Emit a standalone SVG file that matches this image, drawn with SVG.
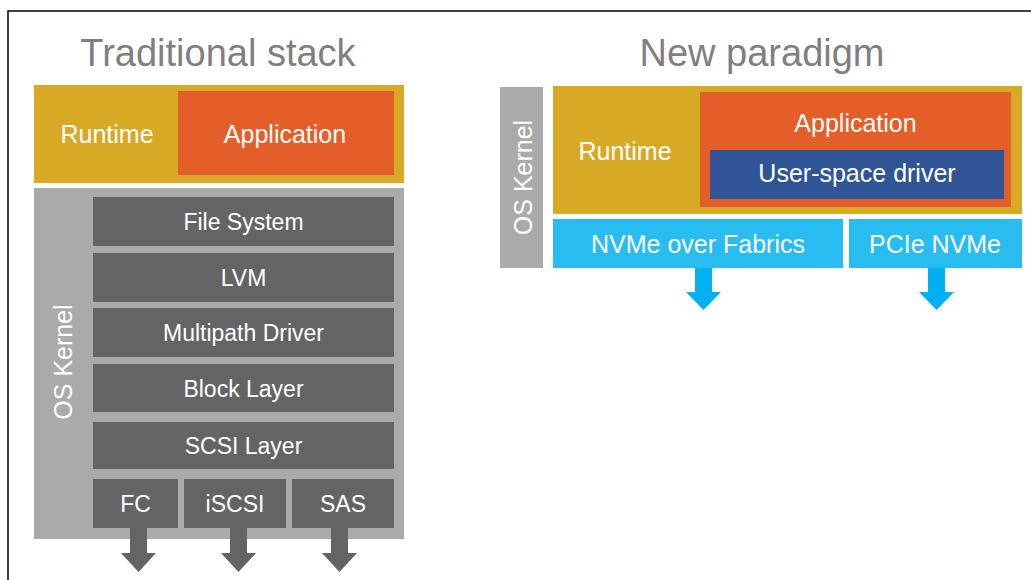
<svg xmlns="http://www.w3.org/2000/svg" width="1031" height="580" viewBox="0 0 1031 580">
<style>
text{font-family:"Liberation Sans",Arial,sans-serif;text-anchor:middle;fill:#ffffff}
.title{font-size:38px;fill:#7f7f7f}
.big{font-size:25px}
.lay{font-size:23px}
.gold{fill:#d8a924}
.app{fill:#e35e29}
.kern{fill:#aaaaaa}
.dark{fill:#646464}
.usd{fill:#2f5597}
.nv{fill:#29bcf0}
.ga{fill:#646464}
.ba{fill:#00b0f0}
</style>
<rect x="8" y="11" width="1040" height="600" fill="#ffffff" stroke="#000000" stroke-width="1.5"/>
<text class="title" x="218" y="66">Traditional stack</text>
<text class="title" x="762" y="66">New paradigm</text>

<g id="left-runtime">
<rect class="gold" x="34" y="85" width="370" height="98"/>
<text class="big" x="107" y="143">Runtime</text>
</g>
<g id="left-application">
<rect class="app" x="178" y="91" width="216" height="84"/>
<text class="big" x="285" y="143">Application</text>
</g>
<g id="left-kernel">
<rect class="kern" x="34" y="188" width="370" height="351"/>
<text class="big" transform="translate(72 362) rotate(-90)" x="0" y="0">OS Kernel</text>
</g>
<g id="file-system">
<rect class="dark" x="93" y="197" width="301" height="49"/>
<text class="lay" x="243.5" y="230">File System</text>
</g>
<g id="lvm">
<rect class="dark" x="93" y="253" width="301" height="49"/>
<text class="lay" x="243.5" y="286">LVM</text>
</g>
<g id="multipath">
<rect class="dark" x="93" y="308" width="301" height="49"/>
<text class="lay" x="243.5" y="341">Multipath Driver</text>
</g>
<g id="block">
<rect class="dark" x="93" y="364" width="301" height="48"/>
<text class="lay" x="243.5" y="397">Block Layer</text>
</g>
<g id="scsi">
<rect class="dark" x="93" y="422" width="301" height="47"/>
<text class="lay" x="243.5" y="454">SCSI Layer</text>
</g>
<g id="fc">
<rect class="dark" x="93" y="479" width="85" height="49"/>
<text class="lay" x="135.5" y="512">FC</text>
</g>
<g id="iscsi">
<rect class="dark" x="184" y="479" width="102" height="49"/>
<text class="lay" x="235" y="512">iSCSI</text>
</g>
<g id="sas">
<rect class="dark" x="292" y="479" width="102" height="49"/>
<text class="lay" x="343" y="512">SAS</text>
</g>

<g id="right-kernel">
<rect class="kern" x="500" y="87" width="43" height="181"/>
<text class="big" transform="translate(531.5 177.5) rotate(-90)" x="0" y="0">OS Kernel</text>
</g>
<g id="right-runtime">
<rect class="gold" x="553" y="86" width="469" height="128"/>
<text class="big" x="625" y="160">Runtime</text>
</g>
<g id="right-application">
<rect class="app" x="700" y="92" width="311" height="115"/>
<text class="big" x="855.5" y="132">Application</text>
</g>
<g id="user-space-driver">
<rect class="usd" x="710" y="150" width="294" height="49"/>
<text class="big" x="857" y="182">User-space driver</text>
</g>
<g id="nvme-of">
<rect class="nv" x="553" y="219" width="290" height="49"/>
<text class="big" x="698" y="253">NVMe over Fabrics</text>
</g>
<g id="pcie-nvme">
<rect class="nv" x="849" y="219" width="173" height="49"/>
<text class="big" x="935" y="253">PCIe NVMe</text>
</g>

<g id="connectors">
<polygon class="ga" points="130,528 147,528 147,553 156,553 138.5,572 121,553 130,553"/>
<polygon class="ga" points="230,528 247,528 247,553 256,553 238.5,572 221,553 230,553"/>
<polygon class="ga" points="331,528 348,528 348,553 357,553 339.5,572 322,553 331,553"/>
<polygon class="ba" points="695,268 712,268 712,292 721,292 703.5,310 686,292 695,292"/>
<polygon class="ba" points="928,268 945,268 945,292 954,292 936.5,310 919,292 928,292"/>
</g>
</svg>
